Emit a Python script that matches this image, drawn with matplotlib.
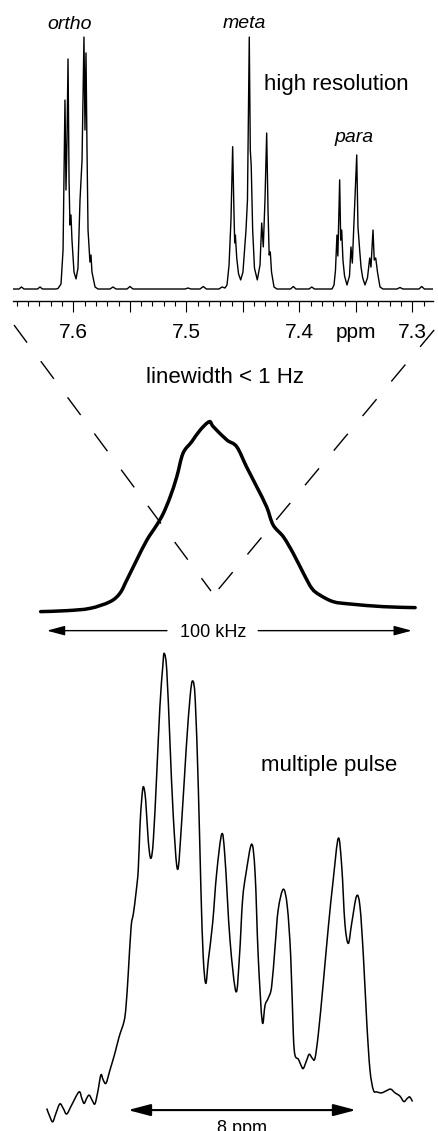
import numpy as np
import matplotlib
matplotlib.use('Agg')
import matplotlib.pyplot as plt
from matplotlib.patches import FancyArrowPatch, PathPatch
from matplotlib.path import Path

plt.rcParams['font.family'] = ['Liberation Sans', 'DejaVu Sans']

# high resolution spectrum (ppm, relative intensity)
hr_ppm = [7.6543, 7.6481, 7.6459, 7.6437, 7.6317, 7.6295, 7.6273, 7.6153,
          7.6136, 7.6109, 7.6091, 7.6074, 7.6065, 7.6056, 7.6047, 7.6038, 7.6030, 7.6021,
          7.6012, 7.5994, 7.5976, 7.5959, 7.5941, 7.5923, 7.5906, 7.5897, 7.5888, 7.5879,
          7.5870, 7.5853, 7.5844, 7.5835, 7.5808, 7.5782,
          7.5676, 7.5649, 7.5622, 7.5525, 7.5499, 7.5472, 7.5012, 7.4985, 7.4959, 7.4879,
          7.4850, 7.4822, 7.4711, 7.4684, 7.4658,
          7.4640, 7.4622, 7.4605, 7.4590, 7.4578, 7.4572, 7.4566, 7.4554, 7.4538, 7.4519,
          7.4499, 7.4472, 7.4459, 7.4443, 7.4434, 7.4426, 7.4413, 7.4397, 7.4372, 7.4348,
          7.4333, 7.4319, 7.4304, 7.4289, 7.4277, 7.4267, 7.4257, 7.4246, 7.4224, 7.4198,
          7.4078, 7.4053, 7.4030, 7.3914, 7.3890, 7.3866, 7.3711,
          7.3693, 7.3680, 7.3667, 7.3659, 7.3643, 7.3634, 7.3625, 7.3614, 7.3600, 7.3578,
          7.3556, 7.3543, 7.3531, 7.3512, 7.3492, 7.3481, 7.3466, 7.3454, 7.3439, 7.3419,
          7.3397, 7.3377, 7.3366, 7.3348, 7.3337, 7.3324, 7.3307, 7.3286, 7.3260,
          7.3136, 7.3109, 7.3083, 7.2941, 7.2917, 7.2893, 7.2817]
hr_int = [0, 0, 0.008, 0, 0, 0.008, 0, 0,
          0.002, 0.020, 0.155, 0.750, 0.393, 0.591, 0.913, 0.433, 0.254, 0.294,
          0.194, 0.067, 0.040, 0.083, 0.353, 0.512, 1.000, 0.631, 0.937, 0.552,
          0.234, 0.107, 0.135, 0.067, 0.008, 0,
          0, 0.008, 0, 0, 0.010, 0, 0, 0.004, 0, 0,
          0.010, 0, 0, 0.008, 0.004,
          0.016, 0.095, 0.274, 0.565, 0.294, 0.183, 0.214, 0.123, 0.060, 0.036,
          0.067, 0.234, 0.353, 1.000, 0.552, 0.492, 0.234, 0.083, 0.036, 0.095,
          0.262, 0.167, 0.353, 0.619, 0.313, 0.135, 0.147, 0.067, 0.008, 0,
          0, 0.010, 0, 0, 0.008, 0, 0,
          0.016, 0.075, 0.214, 0.131, 0.433, 0.194, 0.234, 0.115, 0.052, 0.016,
          0.052, 0.167, 0.103, 0.313, 0.532, 0.246, 0.155, 0.087, 0.044, 0.016,
          0.044, 0.123, 0.087, 0.234, 0.115, 0.123, 0.063, 0.008, 0,
          0, 0.006, 0, 0, 0.010, 0, 0]
tick_ppm = [7.6, 7.55, 7.5, 7.45, 7.4, 7.35, 7.3]
tick_txt = ['7.6', '', '7.5', '', '7.4', 'ppm', '7.3']
groups = ['ortho', 'meta', 'para']
group_ppm = [7.6035, 7.4487, 7.3513]
group_int = [1.030, 1.034, 0.585]

# static broad line (kHz, relative intensity)
bl_khz = [-46.2, -39.1, -32.7, -27.2, -24.5, -22.6, -19.9, -17.1, -14.4, -12.6, -10.7,
          -8.9, -7.2, -4.8, -2.5, 0.0, 1.1, 4.8, 7.5, 10.2, 13.0, 15.7, 17.5, 20.3,
          23.0, 25.8, 28.1, 30.3, 34.0, 38.6, 47.7, 56.4]
bl_int = [0.002, 0.007, 0.019, 0.054, 0.098, 0.168, 0.273, 0.378, 0.457, 0.518, 0.606,
          0.711, 0.834, 0.895, 0.956, 1.000, 0.974, 0.904, 0.869, 0.763, 0.658, 0.553,
          0.457, 0.395, 0.308, 0.203, 0.124, 0.089, 0.054, 0.042, 0.028, 0.023]
width_khz = [-44.5, 55.5]   # the 100 kHz bar
gap_khz = [-11.6, 13.4]     # where the bar breaks for its label
zoom_left = ([-53.5, 0.47], [1.508, 0.110])
zoom_right = ([61.6, 2.1], [1.482, 0.110])

# multiple pulse spectrum (ppm, relative intensity)
mp_ppm = [10.85, 10.74, 10.64, 10.53, 10.39, 10.27, 10.15, 9.98, 9.72, 9.62, 9.54, 9.45,
          9.36, 9.25, 9.16, 9.06, 8.95, 8.87, 8.77, 8.63, 8.46, 8.31, 8.14, 8.07, 7.99,
          7.89, 7.81, 7.72, 7.64, 7.58, 7.52, 7.46, 7.38, 7.29, 7.20, 7.11, 6.99, 6.88,
          6.78, 6.73, 6.64, 6.53, 6.41, 6.26, 6.12, 5.96, 5.82, 5.73, 5.64, 5.53, 5.44,
          5.36, 5.27, 5.18, 5.03, 4.89, 4.71, 4.60, 4.42, 4.21, 4.09, 3.98, 3.86, 3.66,
          3.54, 3.43, 3.29, 3.19, 3.08, 2.96, 2.84, 2.73, 2.55, 2.41, 2.29, 2.20, 2.14,
          2.02, 1.93, 1.85, 1.73, 1.64, 1.53, 1.44, 1.32, 1.15, 0.97, 0.80, 0.62, 0.50,
          0.39, 0.27, 0.15, -0.02, -0.14, -0.26, -0.38, -0.49, -0.61, -0.73, -0.90, -1.08,
          -1.22, -1.37, -1.54, -1.68, -1.80, -1.89, -1.98]
mp_int = [0.010, -0.008, -0.019, -0.001, 0.020, 0.010, -0.002, 0.017, 0.046, 0.032, 0.021,
          0.032, 0.039, 0.027, 0.020, 0.046, 0.083, 0.072, 0.065, 0.094, 0.130, 0.166,
          0.199, 0.231, 0.304, 0.405, 0.434, 0.478, 0.529, 0.623, 0.681, 0.710, 0.681,
          0.594, 0.554, 0.594, 0.739, 0.884, 0.971, 1.000, 0.964, 0.811, 0.645, 0.530,
          0.630, 0.790, 0.906, 0.940, 0.898, 0.703, 0.485, 0.340, 0.282, 0.333, 0.413,
          0.521, 0.607, 0.558, 0.376, 0.264, 0.340, 0.463, 0.521, 0.585, 0.521, 0.340,
          0.199, 0.235, 0.250, 0.275, 0.362, 0.442, 0.487, 0.449, 0.340, 0.173, 0.126,
          0.117, 0.104, 0.097, 0.115, 0.128, 0.119, 0.119, 0.173, 0.282, 0.405, 0.507,
          0.598, 0.536, 0.413, 0.369, 0.413, 0.472, 0.449, 0.340, 0.195, 0.094, 0.050,
          0.046, 0.044, 0.049, 0.052, 0.044, 0.037, 0.025, 0.032, 0.035, 0.025]
span_ppm = [8, 0]

W, H = 438, 1131
fig = plt.figure(figsize=(W / 100, H / 100), dpi=100)


def px_box(x0, y0, x1, y1):
    # pixel box (top-left origin) -> figure fraction
    return [x0 / W, 1 - y1 / H, (x1 - x0) / W, (y1 - y0) / H]


def smooth_path(x, y):
    # curve through the traced points (Catmull-Rom as cubic Bezier segments)
    pts = np.column_stack([x, y]).astype(float)
    P = np.vstack([pts[0], pts, pts[-1]])
    verts, codes = [pts[0]], [Path.MOVETO]
    for i in range(1, len(P) - 2):
        p0, p1, p2, p3 = P[i - 1], P[i], P[i + 1], P[i + 2]
        verts += [p1 + (p2 - p0) / 6, p2 - (p3 - p1) / 6, p2]
        codes += [Path.CURVE4] * 3
    return Path(verts, codes)


# --- top: high resolution ---
ax1 = fig.add_axes(px_box(13, 0, 433, 301))
ax1.plot(hr_ppm, hr_int, color='k', lw=1.0)
ax1.set_xlim(7.6534, 7.2817)
ax1.set_ylim(-0.0476, 1.147)
for s in ['top', 'left', 'right']:
    ax1.spines[s].set_visible(False)
ax1.spines['bottom'].set_linewidth(1.0)
ax1.set_yticks([])
ax1.set_xticks(tick_ppm)
ax1.set_xticklabels(tick_txt)
ax1.set_xticks(np.round(np.arange(7.29, 7.655, 0.01), 2), minor=True)
ax1.tick_params(axis='x', which='major', length=7.9, width=0.8, pad=8, labelsize=15)
ax1.tick_params(axis='x', which='minor', length=3.6, width=0.8)
ax1.patch.set_visible(False)
for name, x, y in zip(groups, group_ppm, group_int):
    ax1.text(x, y, name, style='italic', fontsize=14, ha='center', va='baseline')
ax1.text(7.3673, 0.790, 'high resolution', fontsize=16, ha='center', va='baseline')

# --- middle: static line ---
ax2 = fig.add_axes(px_box(0, 315, 438, 650))
ax2.axis('off')
ax2.set_xlim(-57.34, 62.66)
ax2.set_ylim(-0.1997, 1.5607)
ax2.plot(*zoom_left, color='k', lw=1.0, dashes=(15.8, 16.6))
ax2.plot(*zoom_right, color='k', lw=1.0, dashes=(15.8, 16.6))
ax2.add_patch(PathPatch(smooth_path(bl_khz, bl_int), fill=False, edgecolor='k', lw=2.5,
                        joinstyle='round', capstyle='round'))
ax2.text(4.3, 1.202, 'linewidth < 1 Hz', fontsize=16, ha='center', va='baseline')
for a, b in [(gap_khz[0], width_khz[0]), (gap_khz[1], width_khz[1])]:
    ax2.add_patch(FancyArrowPatch((a, -0.098), (b, -0.098), arrowstyle='-|>,head_length=10.8,head_width=2.9',
                                  mutation_scale=1, color='k', lw=1.0, shrinkA=0, shrinkB=0))
ax2.text(1.0, -0.133, '100 kHz', fontsize=13, ha='center', va='baseline')

# --- bottom: multiple pulse ---
ax3 = fig.add_axes(px_box(0, 640, 438, 1131))
ax3.axis('off')
ax3.set_xlim(12.49, -2.877)
ax3.set_ylim(-0.039, 1.029)
ax3.add_patch(PathPatch(smooth_path(mp_ppm, mp_int), fill=False, edgecolor='k', lw=1.1,
                        joinstyle='round'))
ax3.text(0.95, 0.745, 'multiple pulse', fontsize=16, ha='center', va='baseline')
ax3.add_patch(FancyArrowPatch((span_ppm[0], 0.0065), (span_ppm[1], 0.0065),
                              arrowstyle='<|-|>,head_length=13.7,head_width=3.6',
                              mutation_scale=1, color='k', lw=1.5, shrinkA=0, shrinkB=0))
ax3.text(4.0, -0.0435, '8 ppm', fontsize=13, ha='center', va='baseline', clip_on=False)

fig.savefig('out.png', dpi=100)
